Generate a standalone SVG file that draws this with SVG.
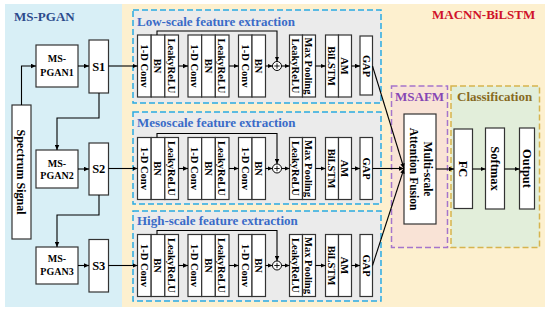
<svg xmlns="http://www.w3.org/2000/svg" width="550" height="312" viewBox="0 0 550 312">
<defs>
<marker id="ah" viewBox="0 0 10 10" refX="10" refY="5" markerWidth="5" markerHeight="5" markerUnits="userSpaceOnUse" orient="auto"><path d="M0,0.5 L10,5 L0,9.5 z" fill="#000"/></marker>
<style>
.t{font-family:"Liberation Serif","Times New Roman",serif;font-weight:bold;fill:#000}
.c{font-size:10.5px;text-anchor:middle}
.h{font-size:13px}
.bx{fill:#fff;stroke:#333;stroke-width:1.2}
.cn{fill:none;stroke:#000;stroke-width:1.1}
.ar{marker-end:url(#ah)}
.dsh{fill:#ebebeb;stroke:#2aaae2;stroke-width:1.5;stroke-dasharray:6,3}
.ttl{fill:#3a6bc8}
.pl{fill:#fff;stroke:#000;stroke-width:1}
</style>
</defs>
<rect x="5" y="4" width="117" height="303" fill="#d8eff6"/>
<rect x="122" y="4" width="423" height="303" fill="#fdf0cf"/>
<text class="t h" x="14" y="21" fill="#2c4a8c" style="fill:#2c4a8c">MS-PGAN</text>
<text class="t h" x="432" y="19" style="fill:#d0122a">MACNN-BiLSTM</text>

<g id="spectrum">
<rect class="bx" x="12" y="105" width="19" height="134"/>
<text class="t" font-size="12" text-anchor="middle" dy="0.35em" transform="translate(21.5,172) rotate(90)">Spectrum Signal</text>
</g>
<g id="mspgan1">
<rect class="bx" x="36" y="45" width="42" height="42"/>
<text class="t" font-size="10" text-anchor="middle" x="57" y="62">MS-</text>
<text class="t" font-size="10" text-anchor="middle" x="57" y="76">PGAN1</text>
</g>
<g id="s1">
<rect class="bx" x="89" y="40" width="19.5" height="53"/>
<text class="t" font-size="12.5" text-anchor="middle" x="98.75" y="70.5">S1</text>
</g>
<g id="mspgan2">
<rect class="bx" x="36" y="150" width="42" height="38"/>
<text class="t" font-size="10" text-anchor="middle" x="57" y="166.5">MS-</text>
<text class="t" font-size="10" text-anchor="middle" x="57" y="179">PGAN2</text>
</g>
<g id="s2">
<rect class="bx" x="89" y="143" width="19.5" height="52"/>
<text class="t" font-size="12.5" text-anchor="middle" x="98.75" y="173">S2</text>
</g>
<g id="mspgan3">
<rect class="bx" x="36" y="247" width="42" height="37"/>
<text class="t" font-size="10" text-anchor="middle" x="57" y="262">MS-</text>
<text class="t" font-size="10" text-anchor="middle" x="57" y="275">PGAN3</text>
</g>
<g id="s3">
<rect class="bx" x="89" y="239.5" width="19.5" height="52.5"/>
<text class="t" font-size="12.5" text-anchor="middle" x="98.75" y="270">S3</text>
</g>

<!-- Low-scale -->
<g id="low">
<rect class="dsh" x="133" y="10" width="248" height="93"/>
<text class="t h ttl" x="137" y="26">Low-scale feature extraction</text>
<g id="low-b1">
<rect class="bx" x="137.5" y="35" width="13.67" height="62"/><rect class="bx" x="151.17" y="35" width="13.67" height="62"/><rect class="bx" x="164.83" y="35" width="13.67" height="62"/>
<text class="t c" dy="0.35em" transform="translate(144.33,66) rotate(90)">1-D Conv</text>
<text class="t c" dy="0.35em" transform="translate(158,66) rotate(90)">BN</text>
<text class="t c" dy="0.35em" transform="translate(171.67,66) rotate(90)">LeakyReLU</text>
</g>
<g id="low-b2">
<rect class="bx" x="188" y="35" width="13.67" height="62"/><rect class="bx" x="201.67" y="35" width="13.67" height="62"/><rect class="bx" x="215.33" y="35" width="13.67" height="62"/>
<text class="t c" dy="0.35em" transform="translate(194.83,66) rotate(90)">1-D Conv</text>
<text class="t c" dy="0.35em" transform="translate(208.5,66) rotate(90)">BN</text>
<text class="t c" dy="0.35em" transform="translate(222.17,66) rotate(90)">LeakyReLU</text>
</g>
<g id="low-b3">
<rect class="bx" x="238.5" y="35" width="13.5" height="62"/><rect class="bx" x="252" y="35" width="13.5" height="62"/>
<text class="t c" dy="0.35em" transform="translate(245.25,66) rotate(90)">1-D Conv</text>
<text class="t c" dy="0.35em" transform="translate(258.75,66) rotate(90)">BN</text>
</g>
<g id="low-add">
<circle class="pl" cx="277" cy="66" r="4.5"/>
<path d="M274.3,66 H279.7 M277,63.3 V68.7" stroke="#000" stroke-width="0.9"/>
</g>
<g id="low-b4">
<rect class="bx" x="289.5" y="35" width="13" height="62"/><rect class="bx" x="302.5" y="35" width="13" height="62"/>
<text class="t c" dy="0.35em" transform="translate(296,66) rotate(90)">LeakyReLU</text>
<text class="t c" dy="0.35em" transform="translate(309,66) rotate(90)">Max Pooling</text>
</g>
<g id="low-b5">
<rect class="bx" x="325.5" y="35" width="13" height="62"/><rect class="bx" x="338.5" y="35" width="13" height="62"/>
<text class="t c" dy="0.35em" transform="translate(332,66) rotate(90)">BiLSTM</text>
<text class="t c" dy="0.35em" transform="translate(345,66) rotate(90)">AM</text>
</g>
<g id="low-gap">
<rect class="bx" x="360" y="36" width="12.5" height="59"/>
<text class="t c" dy="0.35em" transform="translate(366.25,66) rotate(90)">GAP</text>
</g>
</g>

<!-- Mesoscale -->
<g id="meso">
<rect class="dsh" x="133" y="112" width="248" height="92"/>
<text class="t h ttl" x="137" y="127">Mesoscale feature extraction</text>
<g id="meso-b1">
<rect class="bx" x="137.5" y="137.5" width="13.67" height="62"/><rect class="bx" x="151.17" y="137.5" width="13.67" height="62"/><rect class="bx" x="164.83" y="137.5" width="13.67" height="62"/>
<text class="t c" dy="0.35em" transform="translate(144.33,168.5) rotate(90)">1-D Conv</text>
<text class="t c" dy="0.35em" transform="translate(158,168.5) rotate(90)">BN</text>
<text class="t c" dy="0.35em" transform="translate(171.67,168.5) rotate(90)">LeakyReLU</text>
</g>
<g id="meso-b2">
<rect class="bx" x="188" y="137.5" width="13.67" height="62"/><rect class="bx" x="201.67" y="137.5" width="13.67" height="62"/><rect class="bx" x="215.33" y="137.5" width="13.67" height="62"/>
<text class="t c" dy="0.35em" transform="translate(194.83,168.5) rotate(90)">1-D Conv</text>
<text class="t c" dy="0.35em" transform="translate(208.5,168.5) rotate(90)">BN</text>
<text class="t c" dy="0.35em" transform="translate(222.17,168.5) rotate(90)">LeakyReLU</text>
</g>
<g id="meso-b3">
<rect class="bx" x="238.5" y="137.5" width="13.5" height="62"/><rect class="bx" x="252" y="137.5" width="13.5" height="62"/>
<text class="t c" dy="0.35em" transform="translate(245.25,168.5) rotate(90)">1-D Conv</text>
<text class="t c" dy="0.35em" transform="translate(258.75,168.5) rotate(90)">BN</text>
</g>
<g id="meso-add">
<circle class="pl" cx="277" cy="168.5" r="4.5"/>
<path d="M274.3,168.5 H279.7 M277,165.8 V171.2" stroke="#000" stroke-width="0.9"/>
</g>
<g id="meso-b4">
<rect class="bx" x="289.5" y="137.5" width="13" height="62"/><rect class="bx" x="302.5" y="137.5" width="13" height="62"/>
<text class="t c" dy="0.35em" transform="translate(296,168.5) rotate(90)">LeakyReLU</text>
<text class="t c" dy="0.35em" transform="translate(309,168.5) rotate(90)">Max Pooling</text>
</g>
<g id="meso-b5">
<rect class="bx" x="325.5" y="137.5" width="13" height="62"/><rect class="bx" x="338.5" y="137.5" width="13" height="62"/>
<text class="t c" dy="0.35em" transform="translate(332,168.5) rotate(90)">BiLSTM</text>
<text class="t c" dy="0.35em" transform="translate(345,168.5) rotate(90)">AM</text>
</g>
<g id="meso-gap">
<rect class="bx" x="360" y="137.5" width="12.5" height="62"/>
<text class="t c" dy="0.35em" transform="translate(366.25,168.5) rotate(90)">GAP</text>
</g>
</g>

<!-- High-scale -->
<g id="high">
<rect class="dsh" x="133" y="211" width="248" height="90"/>
<text class="t h ttl" x="137" y="225">High-scale feature extraction</text>
<g id="high-b1">
<rect class="bx" x="137.5" y="234.5" width="13.67" height="62"/><rect class="bx" x="151.17" y="234.5" width="13.67" height="62"/><rect class="bx" x="164.83" y="234.5" width="13.67" height="62"/>
<text class="t c" dy="0.35em" transform="translate(144.33,265.5) rotate(90)">1-D Conv</text>
<text class="t c" dy="0.35em" transform="translate(158,265.5) rotate(90)">BN</text>
<text class="t c" dy="0.35em" transform="translate(171.67,265.5) rotate(90)">LeakyReLU</text>
</g>
<g id="high-b2">
<rect class="bx" x="188" y="234.5" width="13.67" height="62"/><rect class="bx" x="201.67" y="234.5" width="13.67" height="62"/><rect class="bx" x="215.33" y="234.5" width="13.67" height="62"/>
<text class="t c" dy="0.35em" transform="translate(194.83,265.5) rotate(90)">1-D Conv</text>
<text class="t c" dy="0.35em" transform="translate(208.5,265.5) rotate(90)">BN</text>
<text class="t c" dy="0.35em" transform="translate(222.17,265.5) rotate(90)">LeakyReLU</text>
</g>
<g id="high-b3">
<rect class="bx" x="238.5" y="234.5" width="13.5" height="62"/><rect class="bx" x="252" y="234.5" width="13.5" height="62"/>
<text class="t c" dy="0.35em" transform="translate(245.25,265.5) rotate(90)">1-D Conv</text>
<text class="t c" dy="0.35em" transform="translate(258.75,265.5) rotate(90)">BN</text>
</g>
<g id="high-add">
<circle class="pl" cx="277" cy="265.5" r="4.5"/>
<path d="M274.3,265.5 H279.7 M277,262.8 V268.2" stroke="#000" stroke-width="0.9"/>
</g>
<g id="high-b4">
<rect class="bx" x="289.5" y="234.5" width="13" height="62"/><rect class="bx" x="302.5" y="234.5" width="13" height="62"/>
<text class="t c" dy="0.35em" transform="translate(296,265.5) rotate(90)">LeakyReLU</text>
<text class="t c" dy="0.35em" transform="translate(309,265.5) rotate(90)">Max Pooling</text>
</g>
<g id="high-b5">
<rect class="bx" x="325.5" y="234.5" width="13" height="62"/><rect class="bx" x="338.5" y="234.5" width="13" height="62"/>
<text class="t c" dy="0.35em" transform="translate(332,265.5) rotate(90)">BiLSTM</text>
<text class="t c" dy="0.35em" transform="translate(345,265.5) rotate(90)">AM</text>
</g>
<g id="high-gap">
<rect class="bx" x="360" y="234.5" width="12.5" height="62"/>
<text class="t c" dy="0.35em" transform="translate(366.25,265.5) rotate(90)">GAP</text>
</g>
</g>

<!-- MSAFM -->
<g id="msafm">
<rect x="391.5" y="86" width="56" height="161.5" fill="#f9e3d6" stroke="#a574cc" stroke-width="1.5" stroke-dasharray="6,3"/>
<text class="t h" x="395" y="101" style="fill:#8646b4">MSAFM</text>
<g id="fusion">
<rect class="bx" x="404" y="114" width="32" height="110"/>
<text class="t" font-size="11.5" text-anchor="middle" transform="translate(420,169) rotate(90)" y="-4">Multi-scale</text>
<text class="t" font-size="11.5" text-anchor="middle" transform="translate(420,169) rotate(90)" y="10.5">Attention Fusion</text>
</g>
</g>

<!-- Classification -->
<g id="classification">
<rect x="451" y="86" width="88.5" height="161.5" fill="#e2eeda" stroke="#d6b44e" stroke-width="1.5" stroke-dasharray="6,3"/>
<text class="t h" x="457" y="101" style="fill:#876a1e">Classification</text>
<g id="fc">
<rect class="bx" x="454" y="129" width="18.5" height="79.5"/>
<text class="t" font-size="12.5" text-anchor="middle" dy="0.35em" transform="translate(463.25,169) rotate(90)">FC</text>
</g>
<g id="softmax">
<rect class="bx" x="485.5" y="128" width="19" height="81"/>
<text class="t" font-size="12.5" text-anchor="middle" dy="0.35em" transform="translate(495,168.5) rotate(90)">Softmax</text>
</g>
<g id="output">
<rect class="bx" x="519.5" y="128" width="15" height="81"/>
<text class="t" font-size="12.5" text-anchor="middle" dy="0.35em" transform="translate(527,168.5) rotate(90)">Output</text>
</g>
</g>

<g id="connectors">
<path class="cn ar" d="M21.5,105 V66 H36"/>
<path class="cn ar" d="M78,66 H89"/>
<path class="cn ar" d="M108.5,66 H137.5"/>
<path class="cn ar" d="M99,93 V118 H57 V150"/>
<path class="cn ar" d="M78,169 H89"/>
<path class="cn ar" d="M108.5,168.5 H137.5"/>
<path class="cn ar" d="M99,195 V215 H57 V247"/>
<path class="cn ar" d="M78,265.5 H89"/>
<path class="cn ar" d="M108.5,265.5 H137.5"/>

<path class="cn ar" d="M178.5,66 H188"/>
<path class="cn ar" d="M229,66 H238.5"/>
<path class="cn ar" d="M265.5,66 H272.5"/>
<path class="cn ar" d="M281.5,66 H289.5"/>
<path class="cn ar" d="M315.5,66 H325.5"/>
<path class="cn ar" d="M351.5,66 H360"/>
<path class="cn ar" d="M157,35 V31 H277 V61.5"/>

<path class="cn ar" d="M178.5,168.5 H188"/>
<path class="cn ar" d="M229,168.5 H238.5"/>
<path class="cn ar" d="M265.5,168.5 H272.5"/>
<path class="cn ar" d="M281.5,168.5 H289.5"/>
<path class="cn ar" d="M315.5,168.5 H325.5"/>
<path class="cn ar" d="M351.5,168.5 H360"/>
<path class="cn ar" d="M157,137.5 V133.5 H277 V164"/>

<path class="cn ar" d="M178.5,265.5 H188"/>
<path class="cn ar" d="M229,265.5 H238.5"/>
<path class="cn ar" d="M265.5,265.5 H272.5"/>
<path class="cn ar" d="M281.5,265.5 H289.5"/>
<path class="cn ar" d="M315.5,265.5 H325.5"/>
<path class="cn ar" d="M351.5,265.5 H360"/>
<path class="cn ar" d="M157,234.5 V230.5 H277 V261"/>

<path class="cn ar" d="M372.5,66 L404,168.5"/>
<path class="cn ar" d="M372.5,168.5 H404"/>
<path class="cn ar" d="M372.5,265.5 L404,168.5"/>
<path class="cn ar" d="M436,169 H454"/>
<path class="cn ar" d="M472.5,169 H485.5"/>
<path class="cn ar" d="M504.5,169 H519.5"/>
</g>
</svg>
